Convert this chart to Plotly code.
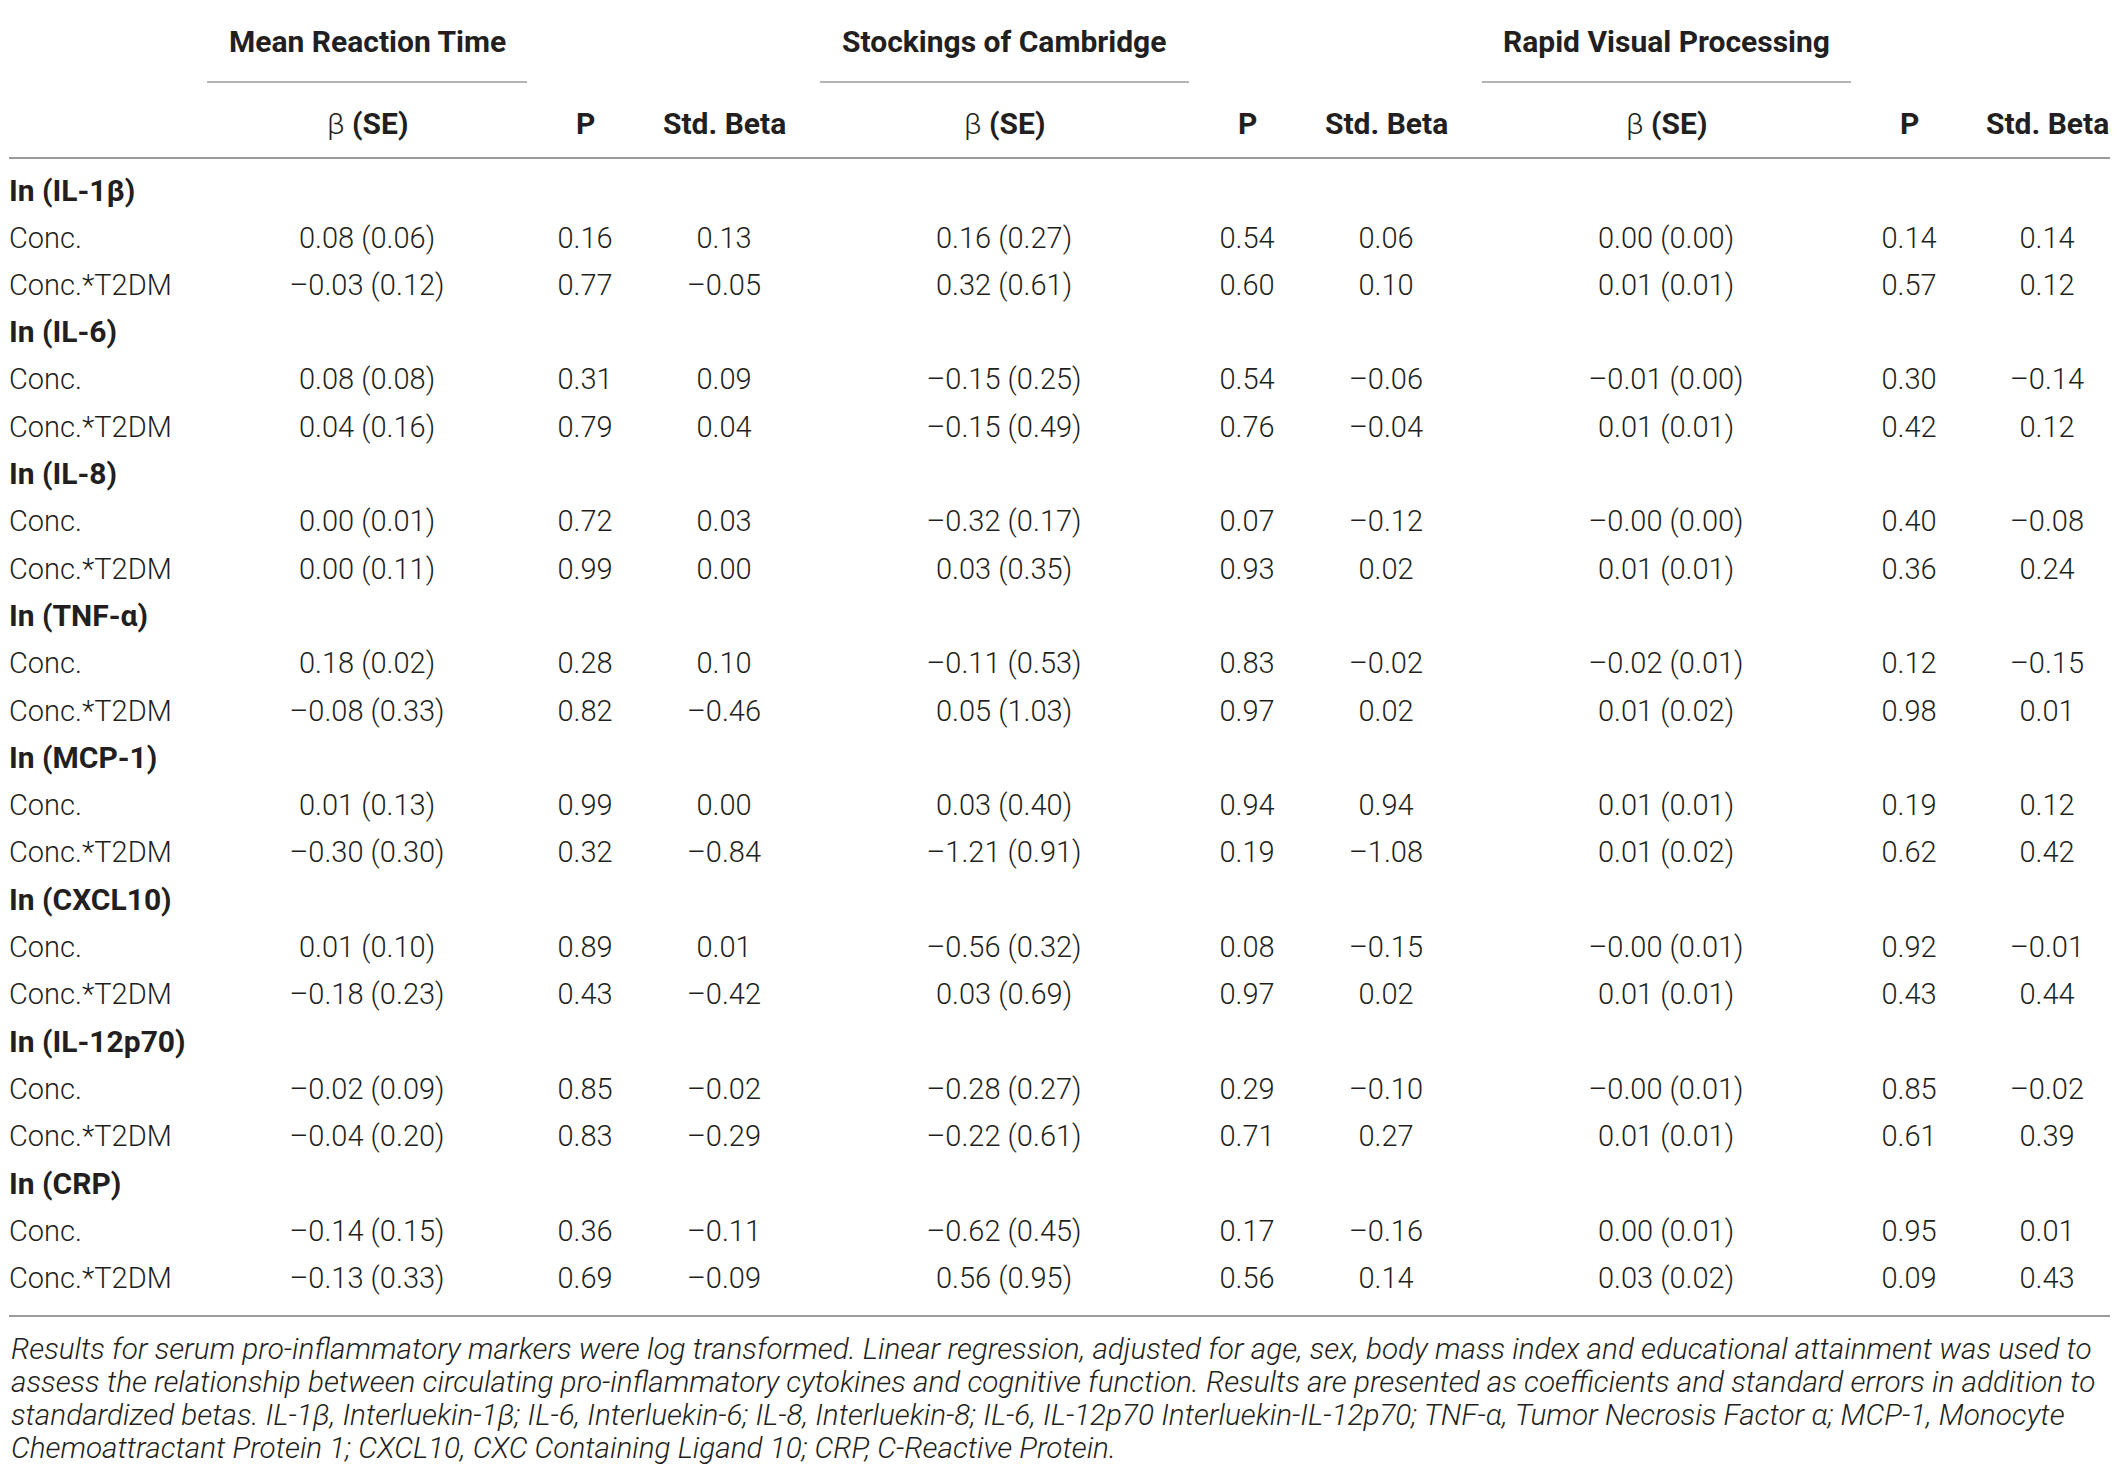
import plotly.graph_objects as go

markers = ["In (IL-1β)", "In (IL-6)", "In (IL-8)", "In (TNF-α)",
           "In (MCP-1)", "In (CXCL10)", "In (IL-12p70)", "In (CRP)"]
terms = ["Conc.", "Conc.*T2DM"]
tests = ["Mean Reaction Time", "Stockings of Cambridge", "Rapid Visual Processing"]
sub_headers = ["β <b>(SE)</b>", "<b>P</b>", "<b>Std. Beta</b>"]

# one value per (marker, term) row: Conc., Conc.*T2DM, Conc., ...
mrt_beta = [0.08, -0.03, 0.08, 0.04, 0.00, 0.00, 0.18, -0.08,
            0.01, -0.30, 0.01, -0.18, -0.02, -0.04, -0.14, -0.13]
mrt_se = [0.06, 0.12, 0.08, 0.16, 0.01, 0.11, 0.02, 0.33,
          0.13, 0.30, 0.10, 0.23, 0.09, 0.20, 0.15, 0.33]
mrt_p = [0.16, 0.77, 0.31, 0.79, 0.72, 0.99, 0.28, 0.82,
         0.99, 0.32, 0.89, 0.43, 0.85, 0.83, 0.36, 0.69]
mrt_std = [0.13, -0.05, 0.09, 0.04, 0.03, 0.00, 0.10, -0.46,
           0.00, -0.84, 0.01, -0.42, -0.02, -0.29, -0.11, -0.09]

soc_beta = [0.16, 0.32, -0.15, -0.15, -0.32, 0.03, -0.11, 0.05,
            0.03, -1.21, -0.56, 0.03, -0.28, -0.22, -0.62, 0.56]
soc_se = [0.27, 0.61, 0.25, 0.49, 0.17, 0.35, 0.53, 1.03,
          0.40, 0.91, 0.32, 0.69, 0.27, 0.61, 0.45, 0.95]
soc_p = [0.54, 0.60, 0.54, 0.76, 0.07, 0.93, 0.83, 0.97,
         0.94, 0.19, 0.08, 0.97, 0.29, 0.71, 0.17, 0.56]
soc_std = [0.06, 0.10, -0.06, -0.04, -0.12, 0.02, -0.02, 0.02,
           0.94, -1.08, -0.15, 0.02, -0.10, 0.27, -0.16, 0.14]

rvp_beta = [0.00, 0.01, -0.01, 0.01, -0.0, 0.01, -0.02, 0.01,
            0.01, 0.01, -0.0, 0.01, -0.0, 0.01, 0.00, 0.03]
rvp_se = [0.00, 0.01, 0.00, 0.01, 0.00, 0.01, 0.01, 0.02,
          0.01, 0.02, 0.01, 0.01, 0.01, 0.01, 0.01, 0.02]
rvp_p = [0.14, 0.57, 0.30, 0.42, 0.40, 0.36, 0.12, 0.98,
         0.19, 0.62, 0.92, 0.43, 0.85, 0.61, 0.95, 0.09]
rvp_std = [0.14, 0.12, -0.14, 0.12, -0.08, 0.24, -0.15, 0.01,
           0.12, 0.42, -0.01, 0.44, -0.02, 0.39, 0.01, 0.43]

footnote = [
    "Results for serum pro-inflammatory markers were log transformed. Linear regression, adjusted for age, sex, body mass index and educational attainment was used to",
    "assess the relationship between circulating pro-inflammatory cytokines and cognitive function. Results are presented as coefficients and standard errors in addition to",
    "standardized betas. IL-1β, Interluekin-1β; IL-6, Interluekin-6; IL-8, Interluekin-8; IL-6, IL-12p70 Interluekin-IL-12p70; TNF-α, Tumor Necrosis Factor α; MCP-1, Monocyte",
    "Chemoattractant Protein 1; CXCL10, CXC Containing Ligand 10; CRP, C-Reactive Protein.",
]

# ---- layout constants ----
W, H = 2118, 1479
PAD = 8  # body margin of the html page
FONT = "Roboto"
TXT = "#231f20"
LINE = "#9b9b9b"
FS = 29
FS_BOLD = 30
FS_NOTE = 29.7
X_LEFT = 9

col_x = [[367, 585, 724], [1004, 1247, 1386], [1666, 1909, 2047]]
rule_x = [(207, 527), (820, 1189), (1482, 1851)]
row0, row_h = 193, 47.3


def fmt(v):
    return f"{v:.2f}".replace("-", "–")


def font(size):
    return dict(family=FONT, size=size, color=TXT, weight=300)


# row positions: marker heading then its two terms
n_rows = len(markers) * 3
row_y = [row0 + i * row_h for i in range(n_rows)]
head_y = [row_y[3 * k] for k in range(len(markers))]
term_y = [row_y[3 * k + 1 + j] for k in range(len(markers)) for j in range(2)]
term_lbl = [terms[j] for k in range(len(markers)) for j in range(2)]

fig = go.Figure()

# row labels
fig.add_trace(go.Scatter(
    x=[X_LEFT] * len(markers), y=head_y, text=[f"<b>{m}</b>" for m in markers],
    mode="text", textposition="middle right", textfont=font(FS_BOLD),
    cliponaxis=False, hoverinfo="skip", showlegend=False))
fig.add_trace(go.Scatter(
    x=[X_LEFT] * len(term_lbl), y=term_y, text=term_lbl,
    mode="text", textposition="middle right", textfont=font(FS),
    cliponaxis=False, hoverinfo="skip", showlegend=False))

# table body
blocks = [(mrt_beta, mrt_se, mrt_p, mrt_std),
          (soc_beta, soc_se, soc_p, soc_std),
          (rvp_beta, rvp_se, rvp_p, rvp_std)]
for (beta, se, p, std), cx in zip(blocks, col_x):
    cols = [[f"{fmt(b)} ({fmt(s)})" for b, s in zip(beta, se)],
            [fmt(v) for v in p],
            [fmt(v) for v in std]]
    for vals, x in zip(cols, cx):
        fig.add_trace(go.Scatter(
            x=[x] * len(vals), y=term_y, text=vals,
            mode="text", textposition="middle center", textfont=font(FS),
            cliponaxis=False, hoverinfo="skip", showlegend=False))

# headers
for name, cx, (x0, x1) in zip(tests, col_x, rule_x):
    fig.add_annotation(x=cx[0], y=41, text=f"<b>{name}</b>", showarrow=False,
                       xref="x", yref="y", font=font(FS_BOLD))
    fig.add_shape(type="line", x0=x0, x1=x1, y0=82, y1=82, xref="x", yref="y",
                  line=dict(color=LINE, width=1.5))
    for h, x in zip(sub_headers, cx):
        fig.add_annotation(x=x, y=123, text=h, showarrow=False, xref="x", yref="y",
                           font=font(FS_BOLD))

# horizontal rules
for y in [6, 158, 1316]:
    fig.add_shape(type="line", x0=X_LEFT, x1=2110, y0=y, y1=y, xref="x", yref="y",
                  line=dict(color=LINE, width=2))

# footnote
for i, line in enumerate(footnote):
    fig.add_annotation(x=X_LEFT, y=1348 + i * 33, text=f"<i>{line}</i>", showarrow=False,
                       xref="x", yref="y", xanchor="left", font=font(FS_NOTE))

fig.update_layout(
    width=W - 2 * PAD, height=H - 2 * PAD,
    margin=dict(l=0, r=0, t=0, b=0),
    paper_bgcolor="white", plot_bgcolor="white",
    xaxis=dict(range=[PAD, W - PAD], visible=False, fixedrange=True),
    yaxis=dict(range=[H - PAD, PAD], visible=False, fixedrange=True),
)

fig.write_html("out.html")
